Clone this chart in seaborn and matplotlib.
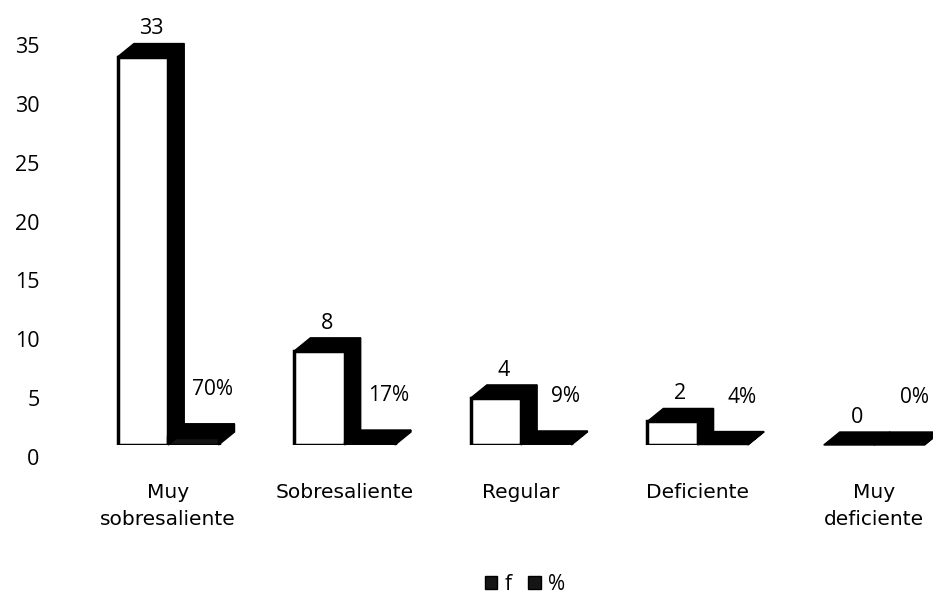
import numpy as np
import pandas as pd
import matplotlib
matplotlib.use("Agg")
import matplotlib.pyplot as plt
import matplotlib.transforms as mtransforms
from matplotlib.patches import Polygon, Patch
import seaborn as sns

# data
categories = ["Muy\nsobresaliente", "Sobresaliente", "Regular", "Deficiente", "Muy\ndeficiente"]
f_values = [33, 8, 4, 2, 0]
pct_values = [0.70, 0.17, 0.09, 0.04, 0.00]
series = ["f", "%"]

df = pd.DataFrame({
    "categoria": categories * 2,
    "serie": ["f"] * len(categories) + ["%"] * len(categories),
    "valor": f_values + pct_values,
})

sns.set_style("white")
plt.rcParams["font.family"] = ["Open Sans", "DejaVu Sans"]
plt.rcParams["text.color"] = "black"
plt.rcParams["xtick.color"] = "black"
plt.rcParams["ytick.color"] = "black"

fig = plt.figure(figsize=(9.33, 6.03), dpi=100)
ax = fig.add_axes([80 / 933, 1 - 445 / 603, 847 / 933, 412 / 603])

sns.barplot(data=df, x="categoria", y="valor", hue="serie", hue_order=series,
            palette=["white", "#151515"], edgecolor="black", linewidth=2.5,
            width=0.57, gap=0, legend=False, ax=ax)

ax.set_ylim(0, 35)
ax.set_xlim(-0.5, 4.3)
ax.set_yticks(np.arange(0, 36, 5))
ax.set_xlabel("")
ax.set_ylabel("")
sns.despine(ax=ax, left=True, bottom=True)
ax.tick_params(axis="y", length=0, pad=29, labelsize=15.5)
ax.tick_params(axis="x", length=0, pad=27, labelsize=14.5, labelfontfamily="DejaVu Sans")
# y labels sit a little below the front floor, as on the back wall
shift = mtransforms.ScaledTranslation(0, -12 / 100, fig.dpi_scale_trans)
for lbl in ax.get_yticklabels():
    lbl.set_transform(lbl.get_transform() + shift)
for lbl in ax.get_xticklabels():
    lbl.set_verticalalignment("top")
    lbl.set_linespacing(1.55)

# fake 3D depth: offset in pixels converted to data units
depth_px = (16, 13)
fig.canvas.draw()
inv = ax.transData.inverted()
p0 = inv.transform((0, 0))
p1 = inv.transform(depth_px)
dx, dy = p1 - p0

pct_labels = []
for cont, vals, kind in zip(ax.containers, [f_values, pct_values], series):
    for bar, v in zip(cont, vals):
        x0 = bar.get_x()
        x1 = x0 + bar.get_width()
        y0 = 0
        y1 = bar.get_height()
        top = Polygon([(x0, y1), (x1, y1), (x1 + dx, y1 + dy), (x0 + dx, y1 + dy)],
                      closed=True, facecolor="black", edgecolor="black", lw=1, clip_on=False)
        side = Polygon([(x1, y0), (x1 + dx, y0 + dy), (x1 + dx, y1 + dy), (x1, y1)],
                       closed=True, facecolor="black", edgecolor="black", lw=1, clip_on=False)
        ax.add_patch(side)
        ax.add_patch(top)
        xc = x0 + bar.get_width() / 2
        if kind == "f":
            ax.annotate(f"{v:g}", (xc + dx / 2, y1 + dy), xytext=(0, 3),
                        textcoords="offset points", ha="center", va="bottom", fontsize=15.5)
        else:
            t = ax.annotate(f"{v:.0%}", (xc + dx / 2, y1 + dy), xytext=(8, 17),
                            textcoords="offset points", ha="center", va="bottom", fontsize=15)
            pct_labels.append(t)

# keep the last label inside the picture
fig.canvas.draw()
renderer = fig.canvas.get_renderer()
for t in pct_labels:
    bb = t.get_window_extent(renderer)
    over = bb.x1 - (fig.bbox.x1 - 4)
    if over > 0:
        ox, oy = t.xyann
        t.xyann = (ox - over * 72 / fig.dpi, oy)

handles = [Patch(facecolor="#151515", edgecolor="black"),
           Patch(facecolor="#151515", edgecolor="black")]
fig.legend(handles, series, loc="center", bbox_to_anchor=(525 / 933, 1 - 584 / 603),
           ncol=2, frameon=False, fontsize=15, handlelength=0.6, handleheight=0.6,
           handletextpad=0.35, columnspacing=0.8)

fig.savefig("out.png", dpi=100, facecolor="white")
